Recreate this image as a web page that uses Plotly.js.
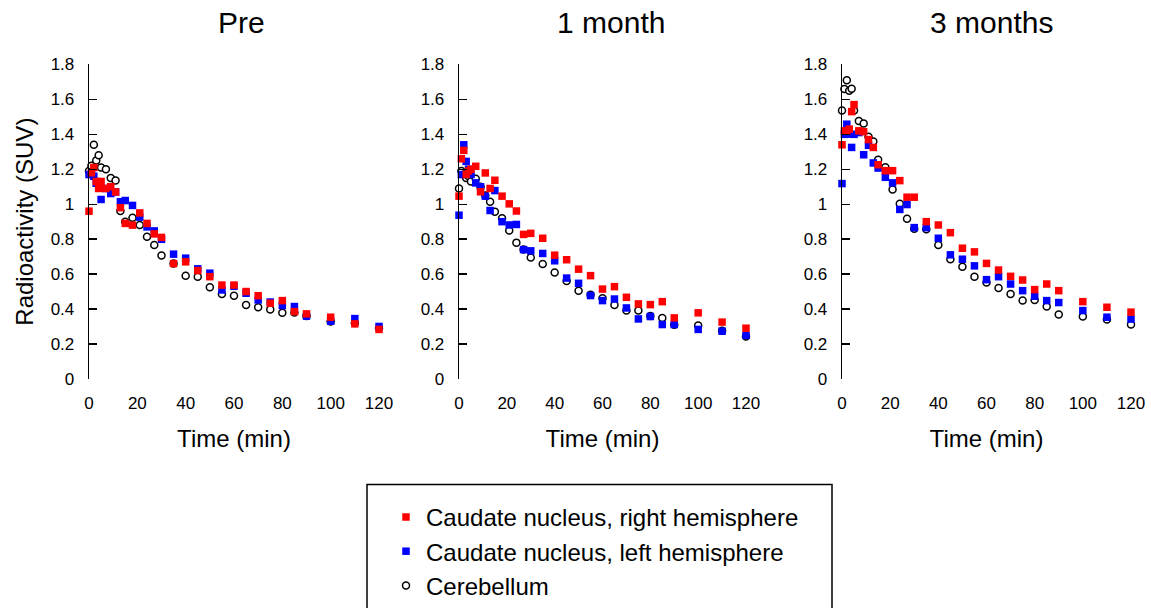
<!DOCTYPE html>
<html><head><meta charset="utf-8">
<script src="https://cdn.plot.ly/plotly-3.0.1.min.js"></script>
<style>html,body{margin:0;padding:0;background:#fff}#chart{width:1151px;height:608px}</style>
</head><body><div id="chart"></div>
<script>
// ---- data ----
const timeMin = [0,1,2,3,4,5,7,9,11,13,15,18,21,24,27,30,35,40,45,50,55,60,65,70,75,80,85,90,100,110,120];
const panelTitles = ["Pre", "1 month", "3 months"];
const seriesNames = ["Caudate nucleus, right hemisphere", "Caudate nucleus, left hemisphere", "Cerebellum"];

const preRight = [0.96,1.18,1.21,1.13,1.09,1.13,1.09,1.10,1.07,0.98,0.89,0.88,0.95,0.89,0.83,0.81,0.66,0.67,0.62,0.585,0.537,0.537,0.50,0.476,0.433,0.448,0.385,0.372,0.353,0.315,0.283];
const preLeft  = [1.17,1.17,1.16,1.12,1.10,1.027,1.09,1.061,1.07,1.014,1.021,0.993,0.926,0.87,0.847,0.799,0.714,0.691,0.63,0.605,0.509,0.53,0.49,0.452,0.44,0.42,0.414,0.359,0.33,0.345,0.30];
const preCereb = [1.19,1.22,1.34,1.25,1.28,1.21,1.20,1.15,1.135,0.961,0.90,0.923,0.881,0.813,0.767,0.706,0.66,0.59,0.585,0.524,0.486,0.476,0.423,0.41,0.397,0.378,0.38,0.36,0.329,0.32,0.29];

const m1Right = [1.046,1.26,1.308,1.17,1.19,1.20,1.217,1.071,1.179,1.09,1.137,1.046,1.002,0.961,0.827,0.833,0.805,0.708,0.682,0.628,0.591,0.514,0.528,0.467,0.429,0.425,0.442,0.349,0.378,0.325,0.29];
const m1Left  = [0.937,1.17,1.34,1.245,1.20,1.17,1.122,1.10,1.046,0.964,1.078,0.90,0.881,0.884,0.74,0.733,0.718,0.676,0.577,0.547,0.477,0.448,0.457,0.406,0.343,0.357,0.311,0.311,0.283,0.273,0.249];
const m1Cereb = [1.09,1.19,1.17,1.15,1.16,1.13,1.145,1.10,1.05,1.014,0.957,0.919,0.85,0.78,0.74,0.695,0.657,0.609,0.56,0.505,0.482,0.461,0.423,0.391,0.391,0.36,0.349,0.31,0.306,0.275,0.243];

const m3Right = [1.34,1.42,1.42,1.43,1.53,1.57,1.42,1.415,1.37,1.325,1.226,1.192,1.192,1.135,1.04,1.04,0.90,0.881,0.837,0.748,0.727,0.661,0.623,0.587,0.566,0.511,0.543,0.505,0.442,0.41,0.382];
const m3Left  = [1.118,1.40,1.458,1.401,1.325,1.40,1.41,1.283,1.337,1.236,1.207,1.154,1.122,0.97,0.998,0.866,0.866,0.805,0.71,0.685,0.647,0.568,0.585,0.543,0.505,0.473,0.448,0.437,0.391,0.353,0.342];
const m3Cereb = [1.536,1.66,1.71,1.65,1.661,1.536,1.477,1.462,1.386,1.359,1.255,1.211,1.084,1.002,0.917,0.86,0.856,0.767,0.685,0.642,0.585,0.552,0.52,0.486,0.448,0.452,0.414,0.368,0.357,0.34,0.311];

const xTickVals = [0,20,40,60,80,100,120];
const yTickVals = [0,0.2,0.4,0.6,0.8,1,1.2,1.4,1.6,1.8];
const yTickText = ["0","0.2","0.4","0.6","0.8","1","1.2","1.4","1.6","1.8"];
const xTitle = "Time (min)";
const yTitle = "Radioactivity (SUV)";

// ---- layout geometry ----
const W = 1151, H = 608;
const FONT = "Liberation Sans, Arial, Helvetica, sans-serif";
const panelPx = [[89,379],[459,746],[842,1131]];
const yTopPx = 65, yBotPx = 382;
const panelData = [
  [preRight, preLeft, preCereb],
  [m1Right, m1Left, m1Cereb],
  [m3Right, m3Left, m3Cereb]
];
const titleCenterPx = [241, 611, 991];

const traces = [];
const layout = {
  width: W, height: H,
  margin: {l:0, r:0, t:0, b:0},
  paper_bgcolor: "#fff", plot_bgcolor: "rgba(0,0,0,0)",
  font: {family: FONT, color: "#000", size: 17},
  showlegend: true,
  legend: {
    x: 386/W, y: 1 - 499/H, xanchor: "left", yanchor: "top",
    bgcolor: "rgba(0,0,0,0)", borderwidth: 0,
    font: {family: FONT, size: 24, color: "#000"},
    traceorder: "normal"
  },
  annotations: [],
  shapes: [{
    type: "rect", xref: "paper", yref: "paper",
    x0: 367/W, x1: 832/W, y0: 1 - 640/H, y1: 1 - 488.5/H,
    line: {color: "#000", width: 1.5}, fillcolor: "rgba(0,0,0,0)"
  }]
};

panelData.forEach((series, p) => {
  const sfx = p === 0 ? "" : String(p + 1);
  const xa = "x" + sfx, ya = "y" + sfx;
  const [right, left, cereb] = series;
  const common = {type: "scatter", mode: "markers", x: timeMin, xaxis: xa, yaxis: ya, cliponaxis: false, hoverinfo: "skip"};
  // drawn bottom-to-top: cerebellum, left, right; legend order set by legendrank
  traces.push(Object.assign({}, common, {
    y: cereb, name: seriesNames[2], legendrank: 3, showlegend: p === 0,
    marker: {symbol: "circle", size: 7, color: "#fff", line: {color: "#000", width: 1.5}}
  }));
  traces.push(Object.assign({}, common, {
    y: left, name: seriesNames[1], legendrank: 2, showlegend: p === 0,
    marker: {symbol: "square", size: 7.5, color: "#0000ff", line: {width: 0}}
  }));
  traces.push(Object.assign({}, common, {
    y: right, name: seriesNames[0], legendrank: 1, showlegend: p === 0,
    marker: {symbol: "square", size: 7.5, color: "#ff0000", line: {width: 0}}
  }));

  const [x0, x1] = panelPx[p];
  layout["xaxis" + sfx] = {
    domain: [x0 / W, x1 / W], anchor: ya, range: [0, 120],
    tickvals: xTickVals, ticks: "", showline: false, showgrid: false, zeroline: false,
    ticklabelstandoff: 12, tickfont: {size: 17, family: FONT, color: "#000"},
    title: {text: xTitle, font: {size: 24, family: FONT, color: "#000"}, standoff: 18}
  };
  layout["yaxis" + sfx] = {
    domain: [1 - yBotPx / H, 1 - yTopPx / H], anchor: xa, range: [0, 1.8],
    tickvals: yTickVals, ticktext: yTickText,
    ticks: "inside", ticklen: 8, tickwidth: 1.3, tickcolor: "#000",
    showline: true, linecolor: "#000", linewidth: 1.3,
    showgrid: false, zeroline: false,
    ticklabelstandoff: 10, tickfont: {size: 17, family: FONT, color: "#000"}
  };
  if (p === 0) {
    layout.yaxis.title = {text: yTitle, font: {size: 24, family: FONT, color: "#000"}, standoff: 10};
  }
  layout.annotations.push({
    text: panelTitles[p], xref: "paper", yref: "paper",
    x: titleCenterPx[p] / W, y: 1 - 23 / H, xanchor: "center", yanchor: "middle",
    showarrow: false, font: {size: 30, family: FONT, color: "#000"}
  });
});

Plotly.newPlot("chart", traces, layout, {staticPlot: true, displayModeBar: false});
</script>
</body></html>
